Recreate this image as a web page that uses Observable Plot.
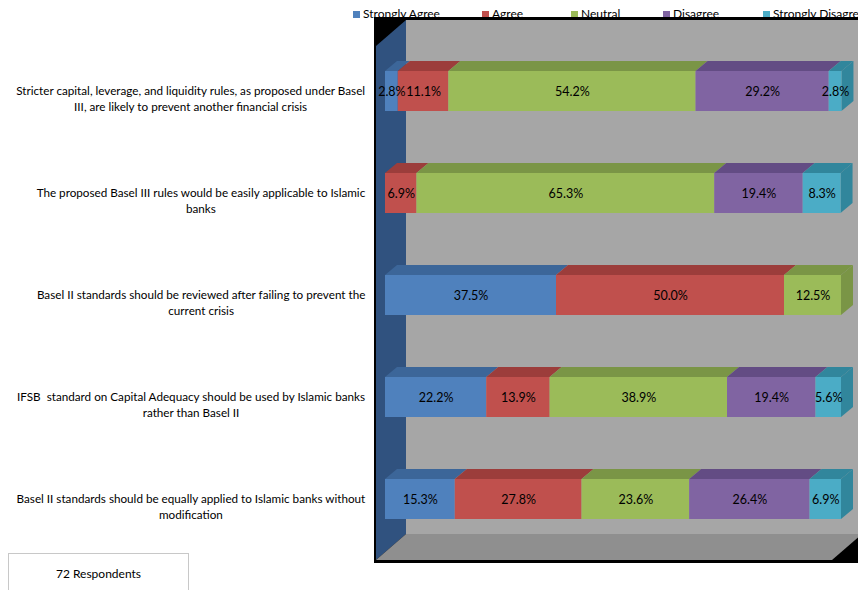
<!DOCTYPE html>
<html><head><meta charset="utf-8">
<script src="https://cdn.jsdelivr.net/npm/d3@7"></script>
<script src="https://cdn.jsdelivr.net/npm/@observablehq/plot@0.6"></script>
<style>
body{margin:0;background:#fff;font-family:Lato, "Open Sans", sans-serif;}
#wrap{position:relative;width:858px;height:590px;overflow:hidden;}
#legend{position:absolute;top:6px;left:0;height:16px;width:858px;font-size:12px;color:#000;}
.item{position:absolute;top:0;display:flex;align-items:center;white-space:nowrap;line-height:16px;}
.sw{width:7px;height:7px;margin-right:3px;}
#chart{position:absolute;top:0;left:0;}
#note{position:absolute;left:8px;top:553px;width:179px;height:50px;border:1px solid #c8c8c8;background:#fff;font-size:12px;text-align:center;line-height:40px;}
</style></head><body><div id="wrap"><div id="legend"></div><div id="chart"></div><div id="note">72 Respondents</div></div>
<script>
// ---- data ----
const questions = [
  "Stricter capital, leverage, and liquidity rules, as proposed under Basel\nIII, are likely to prevent another financial crisis",
  "The proposed Basel III rules would be easily applicable to Islamic\nbanks",
  "Basel II standards should be reviewed after failing to prevent the\ncurrent crisis",
  "IFSB  standard on Capital Adequacy should be used by Islamic banks\nrather than Basel II",
  "Basel II standards should be equally applied to Islamic banks without\nmodification"
];
const categories = ["Strongly Agree", "Agree", "Neutral", "Disagree", "Strongly Disagree"];
const stronglyAgree    = [2.8, 0, 37.5, 22.2, 15.3];
const agree            = [11.1, 6.9, 50.0, 13.9, 27.8];
const neutral          = [54.2, 65.3, 12.5, 38.9, 23.6];
const disagree         = [29.2, 19.4, 0, 19.4, 26.4];
const stronglyDisagree = [2.8, 8.3, 0, 5.6, 6.9];
const respondents = "72 Respondents";

// ---- styles ----
const frontColors = ["#4f81bd", "#c0504d", "#9bbb59", "#8064a2", "#4bacc6"];
const topColors   = ["#3c6699", "#9c3d3b", "#7a9546", "#634c84", "#31869c"];
const legendLeft  = [353, 482, 571, 663, 763];
const FONT = "Lato, 'Open Sans', sans-serif";
const LABEL_SIZE = 11.7;

const series = [stronglyAgree, agree, neutral, disagree, stronglyDisagree];
const rows = [];
questions.forEach((q, i) => {
  let acc = 0;
  categories.forEach((c, j) => {
    const v = series[j][i];
    rows.push({question: q, cat: c, ci: j, value: v, start: acc, end: acc + v});
    acc += v;
  });
});

// legend
const leg = document.getElementById("legend");
categories.forEach((c, j) => {
  const it = document.createElement("div");
  it.className = "item";
  it.style.left = legendLeft[j] + "px";
  it.innerHTML = `<span class="sw" style="background:${frontColors[j]}"></span><span>${c}</span>`;
  leg.appendChild(it);
});
document.getElementById("note").textContent = respondents;

// 3D geometry (offsets in px): chamber depth and bar depth slice
const DX = 30, DY = -26;
const F = [9, -8], Bk = [21, -18];

function chamber(index, scales, values, dims) {
  const {width, height, marginLeft: L, marginRight: R, marginTop: T, marginBottom: B} = dims;
  const x0 = L, x1 = width - R, y0 = T, y1 = height - B;
  const g = d3.create("svg:g");
  g.append("rect").attr("x", x0 - 2).attr("y", y0 + DY - 3)
    .attr("width", width - x0 + 2).attr("height", (y1 + 3) - (y0 + DY - 3)).attr("fill", "#000");
  g.append("rect").attr("x", x0 + DX).attr("y", y0 + DY).attr("width", x1 - x0).attr("height", y1 - y0).attr("fill", "#a6a6a6");
  g.append("polygon").attr("points", [[x0, y0], [x0 + DX, y0 + DY], [x0 + DX, y1 + DY], [x0, y1]].join(" ")).attr("fill", "#30527f");
  g.append("polygon").attr("points", [[x0, y1], [x0 + DX, y1 + DY], [x1 + DX, y1 + DY], [x1, y1]].join(" ")).attr("fill", "#8f8f8f");
  return g.node();
}

function barFaces(index, scales) {
  const x = scales.x, y = scales.y;
  const bw = y.bandwidth();
  const g = d3.create("svg:g");
  rows.filter(r => r.value > 0).forEach(r => {
    const a = x(r.start), b = x(r.end), t = y(r.question);
    g.append("polygon")
      .attr("points", [[a + F[0], t + F[1]], [b + F[0], t + F[1]], [b + Bk[0], t + Bk[1]], [a + Bk[0], t + Bk[1]]].join(" "))
      .attr("fill", topColors[r.ci]);
  });
  questions.forEach(q => {
    const last = rows.filter(r => r.question === q && r.value > 0).pop();
    const b = x(last.end), t = y(q);
    g.append("polygon")
      .attr("points", [[b + F[0], t + F[1]], [b + Bk[0], t + Bk[1]], [b + Bk[0], t + bw + Bk[1]], [b + F[0], t + bw + F[1]]].join(" "))
      .attr("fill", topColors[last.ci]);
  });
  return g.node();
}

// measure label widths to right-align each wrapped block like the original
const ctx = document.createElement("canvas").getContext("2d");
ctx.font = LABEL_SIZE + "px " + FONT;
const labelRight = 365;
const marginLeft = 376;
const labelMarks = questions.map(q => {
  const w = d3.max(q.split("\n"), s => ctx.measureText(s).width);
  return Plot.text([q], {
    y: d => d, text: d => d, frameAnchor: "left", textAnchor: "middle", lineAnchor: "top",
    dx: labelRight - w / 2 - marginLeft, dy: -16, fontSize: LABEL_SIZE, lineHeight: 1.37, fill: "#000"
  });
});

const chart = Plot.plot({
  width: 858, height: 590,
  marginLeft: marginLeft, marginRight: 26, marginTop: 46, marginBottom: 30,
  style: {fontFamily: FONT, background: "transparent", overflow: "hidden"},
  x: {domain: [0, 100], axis: null},
  y: {domain: questions, axis: null, paddingInner: 0.61, paddingOuter: 0.305},
  color: {domain: categories, range: frontColors},
  marks: [
    chamber,
    barFaces,
    Plot.barX(rows.filter(r => r.value > 0), {
      x1: "start", x2: "end", y: "question", fill: "cat", dx: F[0], dy: F[1], insetLeft: 0, insetRight: 0
    }),
    Plot.text(rows.filter(r => r.value > 0), {
      x: d => (d.start + d.end) / 2, y: "question", text: d => d.value.toFixed(1) + "%",
      dx: F[0], dy: F[1], fontSize: 12.5, fill: "#000"
    }),
    ...labelMarks
  ]
});
document.getElementById("chart").appendChild(chart);
</script></body></html>
